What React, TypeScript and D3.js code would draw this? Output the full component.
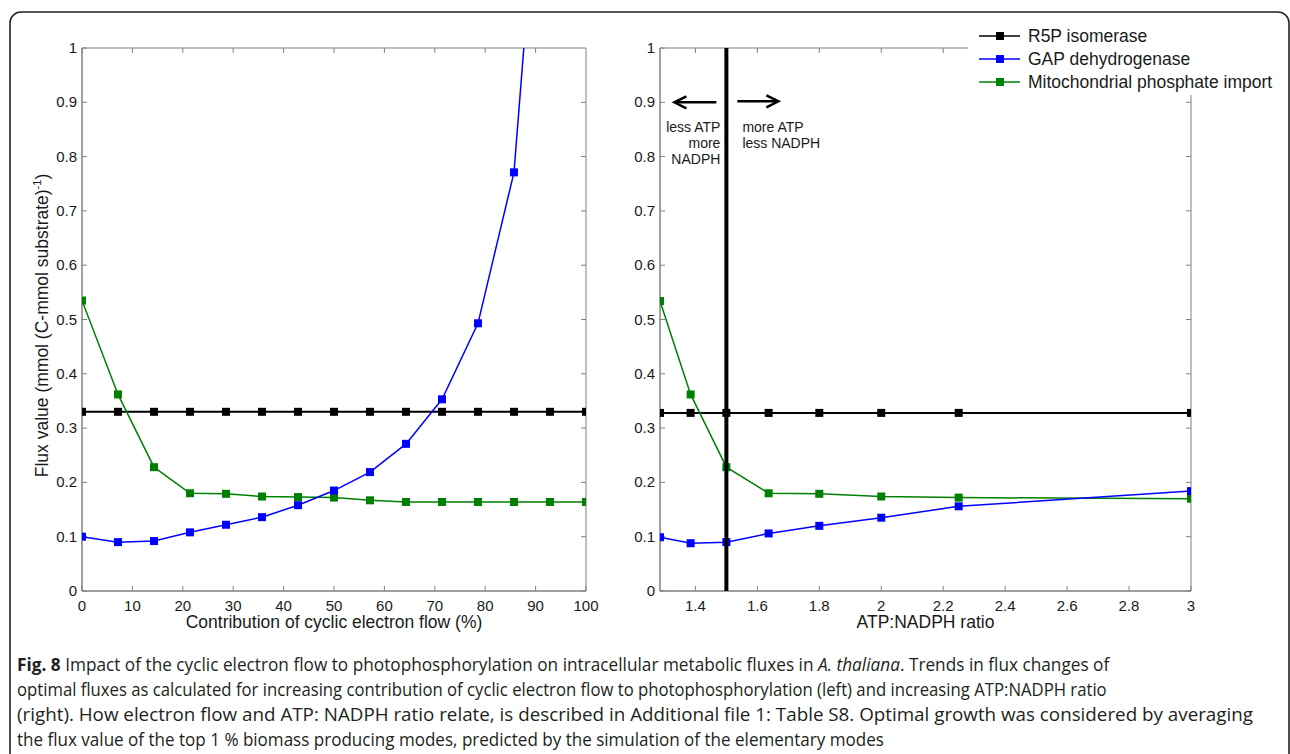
import React, { useLayoutEffect, useRef, useState } from "react";
import * as d3 from "d3";

// ---- data ----
const seriesNames = ["R5P isomerase", "GAP dehydrogenase", "Mitochondrial phosphate import"];
const seriesColors = ["#000000", "#0000ff", "#008000"];

const xLeft = [0, 7.14, 14.29, 21.43, 28.57, 35.71, 42.86, 50, 57.14, 64.29, 71.43, 78.57, 85.71, 92.86, 100];
const r5pLeft = [0.33, 0.33, 0.33, 0.33, 0.33, 0.33, 0.33, 0.33, 0.33, 0.33, 0.33, 0.33, 0.33, 0.33, 0.33];
const gapLeft = [0.100, 0.090, 0.092, 0.108, 0.122, 0.136, 0.158, 0.185, 0.219, 0.271, 0.353, 0.493, 0.771, 1.61];
const mitoLeft = [0.535, 0.362, 0.228, 0.180, 0.179, 0.174, 0.173, 0.172, 0.167, 0.164, 0.164, 0.164, 0.164, 0.164, 0.164];

const xRight = [1.2857, 1.3846, 1.5, 1.6364, 1.8, 2, 2.25, 3];
const r5pRight = [0.328, 0.328, 0.328, 0.328, 0.328, 0.328, 0.328, 0.328];
const gapRight = [0.099, 0.088, 0.090, 0.106, 0.120, 0.135, 0.156, 0.184];
const mitoRight = [0.534, 0.362, 0.228, 0.180, 0.179, 0.174, 0.172, 0.170];

const xTicksLeft = [0, 10, 20, 30, 40, 50, 60, 70, 80, 90, 100];
const xTicksRight = [1.4, 1.6, 1.8, 2, 2.2, 2.4, 2.6, 2.8, 3];
const yTicks = [0, 0.1, 0.2, 0.3, 0.4, 0.5, 0.6, 0.7, 0.8, 0.9, 1];
const ratioMarker = 1.5;

const captionLines: [string, string][][] = [
  [["b", "Fig. 8"], ["n", " Impact of the cyclic electron flow to photophosphorylation on intracellular metabolic fluxes in "], ["i", "A. thaliana"], ["n", ". Trends in flux changes of"]],
  [["n", "optimal fluxes as calculated for increasing contribution of cyclic electron flow to photophosphorylation (left) and increasing ATP:NADPH ratio"]],
  [["n", "(right). How electron flow and ATP: NADPH ratio relate, is described in Additional file 1: Table S8. Optimal growth was considered by averaging"]],
  [["n", "the flux value of the top 1 % biomass producing modes, predicted by the simulation of the elementary modes"]],
];
const captionWidths = [1093, 1090, 1237, 868];

// ---- layout ----
const W = 1290, H = 754;
const top = 48, bottom = 591;
const L = { x0: 82, x1: 586 };
const R = { x0: 660, x1: 1191 };
const axisColor = "#808080";
const textColor = "#1a1a1a";
const font = "'Liberation Sans', Arial, sans-serif";
const tickLen = 5;
const ms = 8;

const y = d3.scaleLinear().domain([0, 1]).range([bottom, top]);
const xl = d3.scaleLinear().domain([0, 100]).range([L.x0, L.x1]);
const xr = d3.scaleLinear().domain([9 / 7, 3]).range([R.x0, R.x1]);

function Series({ xs, ys, x, color, width, clip }: any) {
  const pts: [number, number][] = ys.map((v: number, i: number) => [x(xs[i]), y(v)]);
  const line = d3.line()(pts) || "";
  return (
    <g clipPath={`url(#${clip})`}>
      <path d={line} fill="none" stroke={color} strokeWidth={width} />
      {pts.map((p, i) => (
        <rect key={i} x={p[0] - ms / 2} y={p[1] - ms / 2} width={ms} height={ms} fill={color} />
      ))}
    </g>
  );
}

function Axes({ x, ticks, x0, x1, fmt, hideTopFrom, hideRightAbove }: any) {
  const topEnd = hideTopFrom ?? x1;
  const rightStart = hideRightAbove ?? top;
  return (
    <g>
      <line x1={x0} y1={bottom} x2={x1} y2={bottom} stroke={axisColor} strokeWidth={1.5} />
      <line x1={x0} y1={top} x2={x0} y2={bottom} stroke={axisColor} strokeWidth={1.5} />
      <line x1={x0} y1={top} x2={topEnd} y2={top} stroke={axisColor} strokeWidth={1} />
      <line x1={x1} y1={rightStart} x2={x1} y2={bottom} stroke={axisColor} strokeWidth={1} />
      {ticks.map((t: number) => (
        <g key={"x" + t}>
          <line x1={x(t)} x2={x(t)} y1={bottom} y2={bottom - tickLen} stroke={axisColor} />
          {x(t) < topEnd && <line x1={x(t)} x2={x(t)} y1={top} y2={top + tickLen} stroke={axisColor} />}
          <text x={x(t)} y={bottom + 20} textAnchor="middle" fontSize={15} fill={textColor} fontFamily={font}>{fmt(t)}</text>
        </g>
      ))}
      {yTicks.map((t) => (
        <g key={"y" + t}>
          <line x1={x0} x2={x0 + tickLen} y1={y(t)} y2={y(t)} stroke={axisColor} />
          {y(t) > rightStart && <line x1={x1} x2={x1 - tickLen} y1={y(t)} y2={y(t)} stroke={axisColor} />}
          <text x={x0 - 5} y={y(t) + 5} textAnchor="end" fontSize={15} fill={textColor} fontFamily={font}>{String(t)}</text>
        </g>
      ))}
    </g>
  );
}

export default function App() {
  const arrowY = y(0.9);
  const vx = xr(ratioMarker);
  const capRefs = useRef<(SVGTextElement | null)[]>([]);
  const [capScale, setCapScale] = useState<number[]>(captionWidths.map(() => 1));
  useLayoutEffect(() => {
    const s = captionWidths.map((w, i) => {
      const el = capRefs.current[i];
      const len = el ? el.getComputedTextLength() : 0;
      return len > 0 ? w / len : 1;
    });
    setCapScale(s);
  }, []);
  return (
    <svg width={W} height={H} style={{ position: "absolute", left: 0, top: 0, background: "#fff" }}>
      <defs>
        <clipPath id="clipL"><rect x={L.x0} y={top} width={L.x1 - L.x0} height={bottom - top} /></clipPath>
        <clipPath id="clipR"><rect x={R.x0} y={top} width={R.x1 - R.x0} height={bottom - top} /></clipPath>
      </defs>
      <rect x={0} y={0} width={W} height={H} fill="#fff" />
      <rect x={10} y={12} width={1279} height={800} rx={11} ry={11} fill="none" stroke="#222" strokeWidth={1.6} />

      {/* Left panel */}
      <Axes x={xl} ticks={xTicksLeft} x0={L.x0} x1={L.x1} fmt={(t: number) => String(t)} />
      <Series xs={xLeft} ys={r5pLeft} x={xl} color={seriesColors[0]} width={2} clip="clipL" />
      <Series xs={xLeft} ys={mitoLeft} x={xl} color={seriesColors[2]} width={1.5} clip="clipL" />
      <Series xs={xLeft} ys={gapLeft} x={xl} color={seriesColors[1]} width={1.5} clip="clipL" />
      <text transform={`translate(48,${(top + bottom) / 2 + 6}) rotate(-90)`} textAnchor="middle" fontSize={17.5} fill={textColor} fontFamily={font}>
        Flux value (mmol (C-mmol substrate)<tspan dy={-7} fontSize={11}>-1</tspan><tspan dy={7}>)</tspan>
      </text>
      <text x={(L.x0 + L.x1) / 2} y={628} textAnchor="middle" fontSize={17.5} fill={textColor} fontFamily={font}>
        Contribution of cyclic electron flow (%)
      </text>

      {/* Right panel */}
      <Axes x={xr} ticks={xTicksRight} x0={R.x0} x1={R.x1} fmt={(t: number) => d3.format("~g")(t)} hideTopFrom={968} hideRightAbove={95} />
      <Series xs={xRight} ys={r5pRight} x={xr} color={seriesColors[0]} width={2} clip="clipR" />
      <Series xs={xRight} ys={mitoRight} x={xr} color={seriesColors[2]} width={1.5} clip="clipR" />
      <Series xs={xRight} ys={gapRight} x={xr} color={seriesColors[1]} width={1.5} clip="clipR" />
      <line x1={vx} x2={vx} y1={top} y2={bottom} stroke="#000" strokeWidth={4} />
      <text x={(R.x0 + R.x1) / 2} y={628} textAnchor="middle" fontSize={17.5} fill={textColor} fontFamily={font}>ATP:NADPH ratio</text>

      {/* arrows */}
      <g stroke="#000" strokeWidth={2.5} fill="none">
        <line x1={vx - 10} y1={arrowY} x2={vx - 51} y2={arrowY} />
        <path d={`M${vx - 40},${arrowY - 6} L${vx - 52},${arrowY} L${vx - 40},${arrowY + 6}`} />
        <line x1={vx + 11} y1={arrowY - 1} x2={vx + 51} y2={arrowY - 1} />
        <path d={`M${vx + 40},${arrowY - 7} L${vx + 52},${arrowY - 1} L${vx + 40},${arrowY + 5}`} />
      </g>
      <g fontSize={14} fill={textColor} fontFamily={font}>
        <text x={vx - 6} y={132} textAnchor="end">less ATP</text>
        <text x={vx - 6} y={148} textAnchor="end">more</text>
        <text x={vx - 6} y={164} textAnchor="end">NADPH</text>
        <text x={vx + 16} y={132}>more ATP</text>
        <text x={vx + 16} y={148}>less NADPH</text>
      </g>

      {/* legend */}
      <rect x={968} y={20} width={318} height={74} fill="#fff" />
      {seriesNames.map((n, i) => {
        const ly = 36 + i * 23;
        return (
          <g key={n}>
            <line x1={979} x2={1020} y1={ly} y2={ly} stroke={seriesColors[i]} strokeWidth={1.5} />
            <rect x={1000 - ms / 2} y={ly - ms / 2} width={ms} height={ms} fill={seriesColors[i]} />
            <text x={1028} y={ly + 6} fontSize={17.5} fill={textColor} fontFamily={font}>{n}</text>
          </g>
        );
      })}

      {/* caption */}
      <g fontFamily="'Open Sans', sans-serif" fontSize={18} fill="#231f20">
        {captionLines.map((parts, i) => (
          <text key={i} ref={(el) => { capRefs.current[i] = el; }}
            transform={`translate(17,${671 + i * 25}) scale(${capScale[i]},1)`} x={0} y={0}>
            {parts.map(([s, t], j) => (
              <tspan key={j} fontWeight={s === "b" ? "bold" : "normal"} fontStyle={s === "i" ? "italic" : "normal"}>{t}</tspan>
            ))}
          </text>
        ))}
      </g>
    </svg>
  );
}
